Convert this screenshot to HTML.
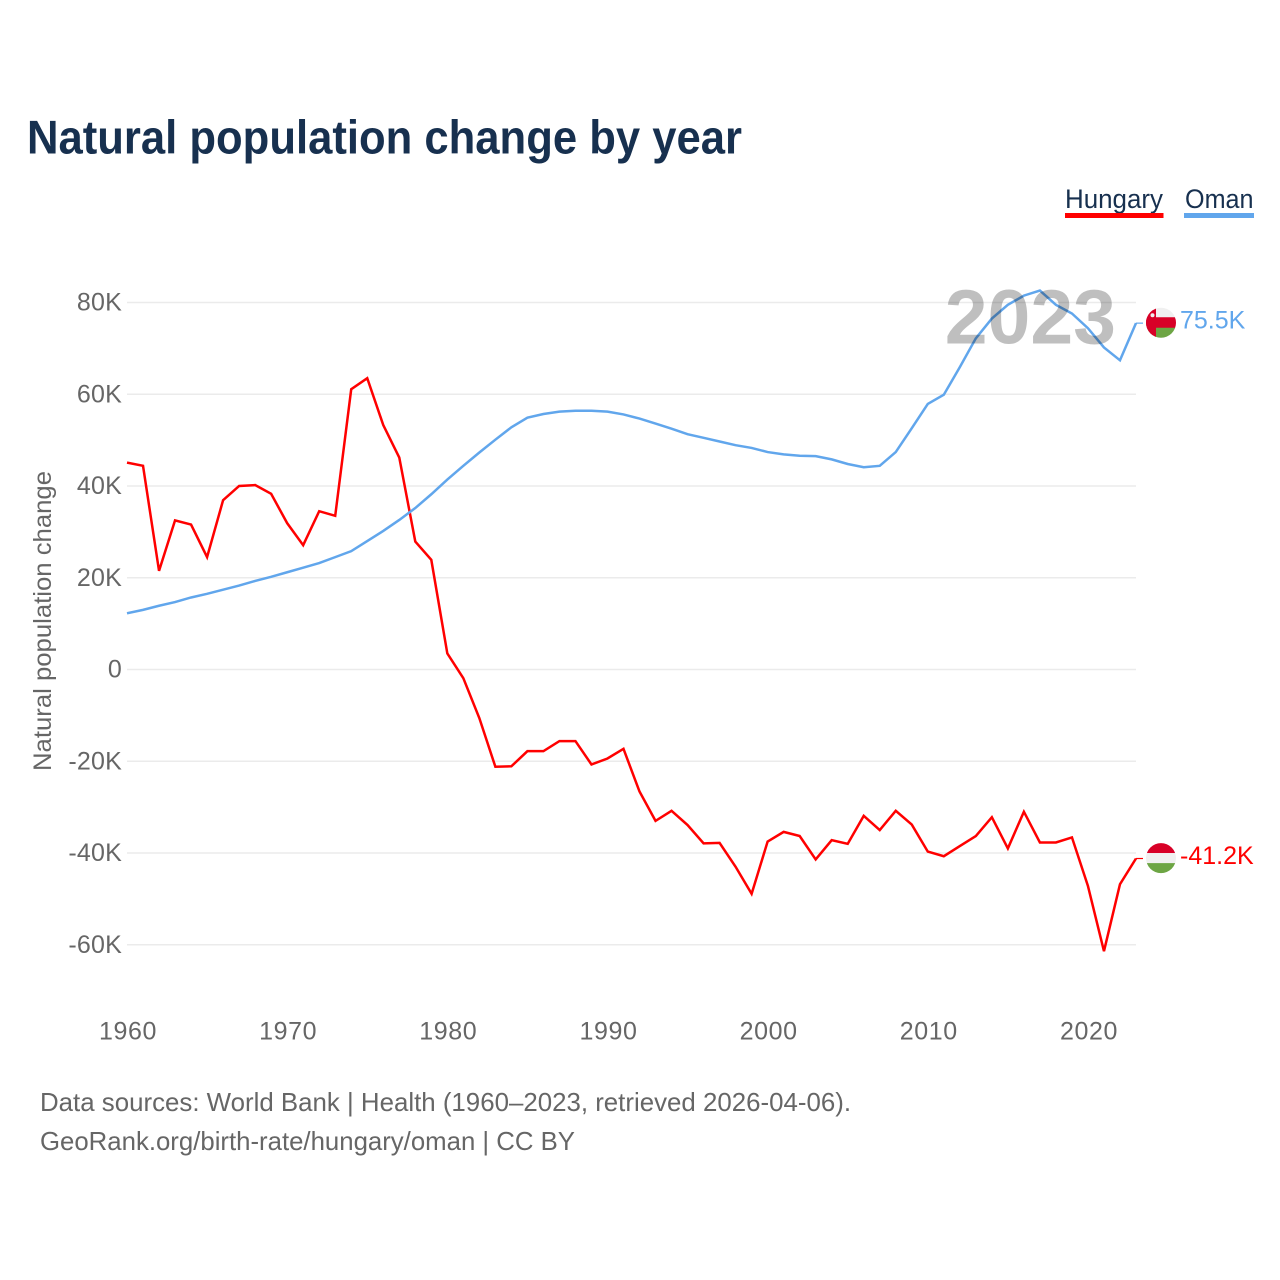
<!DOCTYPE html>
<html lang="en">
<head>
<meta charset="utf-8">
<title>Natural population change by year</title>
<style>
  html, body { margin: 0; padding: 0; background: #fff; }
  svg { display: block; font-family: "Liberation Sans", sans-serif; }
</style>
</head>
<body>
<svg id="chart" width="1280" height="1280" viewBox="0 0 1280 1280" xmlns="http://www.w3.org/2000/svg">
  <rect width="1280" height="1280" fill="#ffffff"/>
  <defs>
    <clipPath id="flag-clip"><circle cx="0" cy="0" r="15"/></clipPath>
  </defs>
  <text x="27" y="153.5" font-size="47" font-weight="700" fill="#17304f" textLength="715" lengthAdjust="spacingAndGlyphs">Natural population change by year</text>

  <text x="1065" y="208" font-size="26.5" fill="#17304f" textLength="98" lengthAdjust="spacingAndGlyphs">Hungary</text>
  <rect x="1065" y="213" width="98.5" height="5" fill="#ff0000"/>
  <text x="1185" y="208" font-size="26.5" fill="#17304f" textLength="68.5" lengthAdjust="spacingAndGlyphs">Oman</text>
  <rect x="1184" y="213" width="70" height="5" fill="#61a6ec"/>

  <text transform="translate(51,771) rotate(-90)" font-size="25" fill="#666666" textLength="300" lengthAdjust="spacingAndGlyphs">Natural population change</text>

  <g id="grid"></g>
  <g id="yticks"></g>
  <g id="xticks"></g>
  <g id="series"></g>
  <g id="ends"></g>

  <text x="1116" y="343.5" text-anchor="end" font-size="77" font-weight="700" fill="#000000" fill-opacity="0.25">2023</text>

  <text x="40" y="1111" font-size="26" fill="#666666" textLength="811" lengthAdjust="spacingAndGlyphs">Data sources: World Bank | Health (1960–2023, retrieved 2026-04-06).</text>
  <text x="40" y="1150" font-size="26" fill="#666666" textLength="535" lengthAdjust="spacingAndGlyphs">GeoRank.org/birth-rate/hungary/oman | CC BY</text>
</svg>
<script>
const years = [1960,1961,1962,1963,1964,1965,1966,1967,1968,1969,1970,1971,1972,1973,1974,1975,1976,1977,1978,1979,1980,1981,1982,1983,1984,1985,1986,1987,1988,1989,1990,1991,1992,1993,1994,1995,1996,1997,1998,1999,2000,2001,2002,2003,2004,2005,2006,2007,2008,2009,2010,2011,2012,2013,2014,2015,2016,2017,2018,2019,2020,2021,2022,2023];
const hungary = [45.1,44.4,21.5,32.5,31.6,24.5,36.9,40.0,40.2,38.3,31.9,27.1,34.5,33.5,61.1,63.5,53.3,46.2,27.9,23.9,3.5,-1.9,-10.6,-21.2,-21.1,-17.8,-17.8,-15.6,-15.6,-20.7,-19.4,-17.3,-26.6,-33.0,-30.8,-33.9,-37.9,-37.8,-43.0,-48.9,-37.5,-35.4,-36.3,-41.4,-37.2,-38.0,-31.9,-35.0,-30.8,-33.8,-39.7,-40.7,-38.5,-36.3,-32.2,-39.0,-31.0,-37.7,-37.7,-36.6,-47.2,-61.4,-46.8,-41.2];
const oman = [12.25,13.0,13.9,14.7,15.7,16.5,17.4,18.3,19.3,20.2,21.2,22.2,23.2,24.5,25.8,28.0,30.2,32.6,35.2,38.2,41.4,44.4,47.3,50.1,52.8,54.9,55.7,56.2,56.4,56.4,56.2,55.6,54.7,53.6,52.5,51.3,50.5,49.7,48.9,48.3,47.4,46.9,46.6,46.5,45.8,44.8,44.1,44.4,47.4,52.6,57.9,59.9,65.9,72.2,76.5,79.5,81.5,82.6,79.5,77.6,74.4,70.2,67.4,75.5];
const yTickValues = [80,60,40,20,0,-20,-40,-60];
const xTickValues = [1960,1970,1980,1990,2000,2010,2020];

const NS = 'http://www.w3.org/2000/svg';
const plotLeft = 127, plotRight = 1136;
function xScale(year) { return plotLeft + (year - 1960) * (plotRight - plotLeft) / 63; }
function yScale(v) { return 669.5 - v * 4.5875; }
function tickLabel(v) { return v === 0 ? '0' : v + 'K'; }
function make(tag, parent) {
  const el = document.createElementNS(NS, tag);
  parent.appendChild(el);
  return el;
}

const grid = document.getElementById('grid');
const yticks = document.getElementById('yticks');
const xticks = document.getElementById('xticks');
const seriesGroup = document.getElementById('series');
const ends = document.getElementById('ends');

yTickValues.forEach(function (v) {
  const line = make('line', grid);
  
  
  line.setAttribute('x1', plotLeft);
  line.setAttribute('x2', plotRight);
  line.setAttribute('y1', yScale(v));
  line.setAttribute('y2', yScale(v));
  line.setAttribute('stroke', '#ebebeb');
  line.setAttribute('stroke-width', '1.5');
  const label = make('text', yticks);
  
  
  label.setAttribute('x', 122);
  label.setAttribute('y', yScale(v) + 8);
  label.setAttribute('text-anchor', 'end');
  label.setAttribute('font-size', '25');
  label.setAttribute('letter-spacing', '0.2');
  label.setAttribute('fill', '#666666');
  label.textContent = tickLabel(v);
});

xTickValues.forEach(function (year) {
  const label = make('text', xticks);
  
  
  label.setAttribute('x', xScale(year) + 1);
  label.setAttribute('y', 1039.5);
  label.setAttribute('text-anchor', 'middle');
  label.setAttribute('font-size', '25');
  label.setAttribute('letter-spacing', '0.6');
  label.setAttribute('fill', '#666666');
  label.textContent = year;
});

function pathFor(values) {
  return values.map(function (v, i) {
    return (i ? 'L' : 'M') + xScale(years[i]).toFixed(2) + ' ' + yScale(v).toFixed(2);
  }).join(' ');
}

const hungaryLine = make('path', seriesGroup);


hungaryLine.setAttribute('d', pathFor(hungary));
hungaryLine.setAttribute('fill', 'none');
hungaryLine.setAttribute('stroke', '#ff0000');
hungaryLine.setAttribute('stroke-width', '2.5');
hungaryLine.setAttribute('stroke-linejoin', 'miter');

const omanLine = make('path', seriesGroup);


omanLine.setAttribute('d', pathFor(oman));
omanLine.setAttribute('fill', 'none');
omanLine.setAttribute('stroke', '#61a6ec');
omanLine.setAttribute('stroke-width', '2.5');
omanLine.setAttribute('stroke-linejoin', 'miter');

function band(parent, x, y, w, h, color) {
  const r = make('rect', parent);
  
  
  r.setAttribute('x', x);
  r.setAttribute('y', y);
  r.setAttribute('width', w);
  r.setAttribute('height', h);
  r.setAttribute('fill', color);
}

function endMarker(values, color, flagName, labelName, leaderName, labelX) {
  const last = values[values.length - 1];
  const y = yScale(last);
  const leader = make('line', ends);
  
  
  leader.setAttribute('x1', plotRight);
  leader.setAttribute('x2', plotRight + 7);
  leader.setAttribute('y1', y);
  leader.setAttribute('y2', y);
  leader.setAttribute('stroke', color);
  leader.setAttribute('stroke-width', '1.2');
  const flag = make('g', ends);
  
  
  flag.setAttribute('transform', 'translate(1161,' + (y - 0.4) + ')');
  flag.setAttribute('clip-path', 'url(#flag-clip)');
  const label = make('text', ends);
  
  
  label.setAttribute('x', labelX);
  label.setAttribute('y', y + 5.5);
  label.setAttribute('font-size', '25');
  label.setAttribute('fill', color);
  label.textContent = last.toFixed(1) + 'K';
  return flag;
}

const omanFlag = endMarker(oman, '#61a6ec', 'flag-oman', 'value-label-oman', 'leader-oman', 1180);
band(omanFlag, -16, -16, 32, 11, '#f0f0f0');
band(omanFlag, -16, -5.5, 32, 11, '#d80027');
band(omanFlag, -16, 5, 32, 11, '#6da544');
band(omanFlag, -16, -16, 11, 32, '#d80027');
const emblem = make('circle', omanFlag);


emblem.setAttribute('cx', -8.5);
emblem.setAttribute('cy', -7.5);
emblem.setAttribute('r', 2);
emblem.setAttribute('fill', '#f0f0f0');

const hungaryFlag = endMarker(hungary, '#ff0000', 'flag-hungary', 'value-label-hungary', 'leader-hungary', 1180);
band(hungaryFlag, -16, -16, 32, 11, '#d80027');
band(hungaryFlag, -16, -5, 32, 10, '#f0f0f0');
band(hungaryFlag, -16, 5, 32, 11, '#6da544');
</script>
</body>
</html>
